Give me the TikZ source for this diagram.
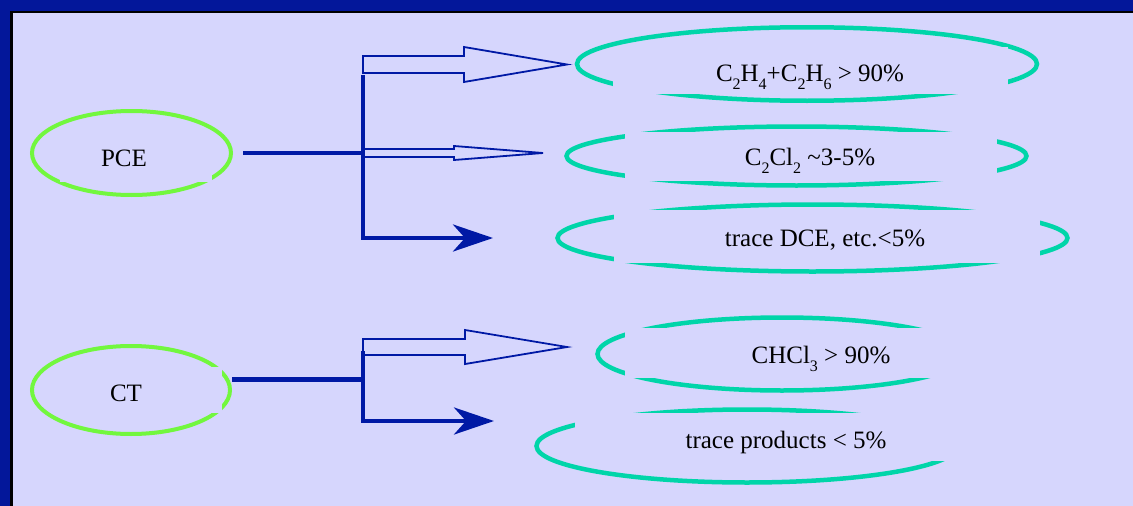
\documentclass[tikz,border=0pt]{standalone}
\usepackage{fontspec}
\setmainfont{Liberation Serif}
\newfontfamily\tmsfont{Liberation Serif}
\usetikzlibrary{shapes.geometric,arrows.meta}
\definecolor{frameblue}{HTML}{03179A}
\definecolor{bgl}{HTML}{D6D6FD}
\definecolor{arrowblue}{HTML}{0019A5}
\definecolor{gring}{HTML}{72F73E}
\definecolor{tring}{HTML}{00D5A9}
\newcommand{\sbs}[1]{\raisebox{-8pt}{\fontsize{16}{16}\selectfont #1}}
\begin{document}
\begin{tikzpicture}[x=1pt,y=-1pt,
  gell/.style={ellipse, draw=gring, line width=4pt, inner sep=0pt},
  tell/.style={ellipse, draw=tring, line width=4.5pt, inner sep=0pt},
  mask/.style={fill=bgl},
  lbl/.style={anchor=base, inner sep=0pt, font=\tmsfont\fontsize{25}{30}\selectfont, text=black},
  trunkline/.style={draw=arrowblue, line width=4.5pt},
  blockarrow/.style={draw=arrowblue, line width=1.8pt, line join=miter},
  tipped/.style={-{Stealth[length=40pt,width=27pt,inset=12pt]}}
]
\useasboundingbox (0,0) rectangle (1133,506);
\begin{scope}
\clip (0,0) rectangle (1133,506);
\fill[frameblue] (-5,-5) rectangle (1145,520);
\fill[black] (10,11) rectangle (1145,520);
\fill[bgl] (12.5,13.3) rectangle (1145,520);
\end{scope}

% ellipses
\node[gell, minimum width=199pt, minimum height=84pt] (PCE) at (131.5,153) {};
\node[gell, minimum width=198pt, minimum height=88pt] (CT) at (131,390) {};
\node[tell, minimum width=460pt, minimum height=73.5pt] (E1) at (807,64) {};
\node[tell, minimum width=460pt, minimum height=59pt] (E2) at (796.5,156) {};
\node[tell, minimum width=510pt, minimum height=67pt] (E3) at (812.5,238) {};
\node[tell, minimum width=369pt, minimum height=73pt] (E4) at (782,354) {};
\node[tell, minimum width=421pt, minimum height=73pt] (E5) at (747,446) {};

% text box backgrounds
\fill[mask] (60,132) rectangle (212,182);
\fill[mask] (60,367) rectangle (222,413);
\fill[mask] (613,47) rectangle (1008,94);
\fill[mask] (625,132) rectangle (997,181);
\fill[mask] (614,210) rectangle (1040,263);
\fill[mask] (625,328) rectangle (1017,378);
\fill[mask] (575,413) rectangle (997,461);

% labels
\node[lbl] (tPCE) at (124,166) {PCE};
\node[lbl] (tCT) at (126,401) {CT};
\node[lbl] (t1) at (810,81) {C\sbs{2}H\sbs{4}+C\sbs{2}H\sbs{6} > 90\%};
\node[lbl] (t2) at (810,165) {C\sbs{2}Cl\sbs{2} \textasciitilde3-5\%};
\node[lbl] (t3) at (825,246) {trace DCE, etc.<5\%};
\node[lbl] (t4) at (821,363) {CHCl\sbs{3} > 90\%};
\node[lbl] (t5) at (786,448) {trace products < 5\%};

% PCE branch
\coordinate (j1) at (363,153);
\coordinate (j1top) at (363,75);
\coordinate (j1bot) at (363,238);
\coordinate (a1end) at (493,238);
\coordinate (b1) at (363,64.5);
\coordinate (tip1) at (567,64.5);
\coordinate (tip2) at (543,153);
\draw[blockarrow] (b1) -- ++(0,-8.5) -- ++(101,0) -- ++(0,-9) -- (tip1) -- ++(-103,17.5) -- ++(0,-9) -- ++(-101,0) -- cycle;
\draw[blockarrow] (j1) -- ++(0,-4) -- ++(91,0) -- ++(0,-3) -- (tip2) -- ++(-89,7) -- ++(0,-3) -- ++(-91,0) -- cycle;
\draw[trunkline] ([xshift=10pt]PCE.east) -- (j1);
\draw[trunkline, tipped] (j1top) -- (j1bot) -- (a1end);

% CT branch
\coordinate (j2) at (363,379.5);
\coordinate (j2top) at (363,351);
\coordinate (j2bot) at (363,421);
\coordinate (a2end) at (494,421);
\coordinate (b3) at (363,347);
\coordinate (tip3) at (567,347);
\draw[blockarrow] (b3) -- ++(0,-8) -- ++(102,0) -- ++(0,-9) -- (tip3) -- ++(-102,17) -- ++(0,-9) -- ++(-102,0) -- cycle;
\draw[trunkline] (CT.east |- j2) -- (j2);
\draw[trunkline, tipped] (j2top) -- (j2bot) -- (a2end);
\end{tikzpicture}
\end{document}
